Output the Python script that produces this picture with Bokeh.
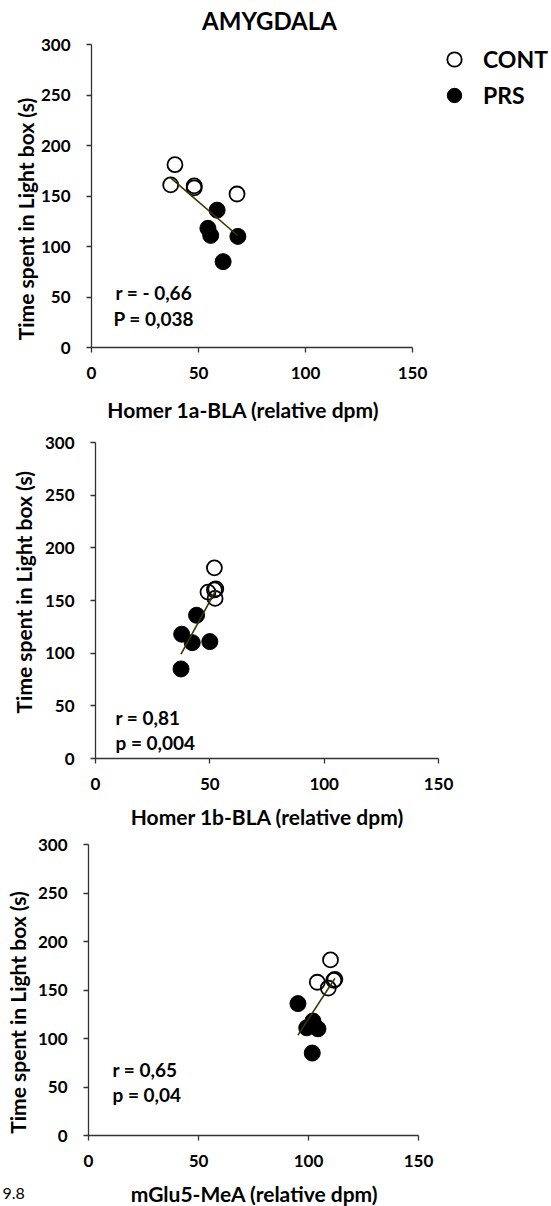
import numpy as np
from bokeh.plotting import figure
from bokeh.models import Range1d, Label, Legend, LegendItem, FixedTicker
from bokeh.layouts import column
from bokeh.embed import file_html
from bokeh.resources import INLINE

FONT = "Lato"

# ---------------- data ----------------
x_ticks = [0, 50, 100, 150]
y_ticks = [0, 50, 100, 150, 200, 250, 300]

cont_time = [181, 161, 160, 158, 152]
prs_time = [136, 118, 111, 110, 85]

homer1a_cont = [39, 37, 48, 48, 68]
homer1a_prs = [58.7, 54.4, 55.7, 68.4, 61.5]
homer1b_cont = [52, 52.6, 52, 49.2, 52.3]
homer1b_prs = [44.2, 37.7, 50, 42.3, 37.4]
mglu5_cont = [110, 112, 111.5, 104, 109]
mglu5_prs = [95.2, 102, 99.2, 104.3, 101.7]

x_labels = ["Homer 1a-BLA (relative dpm)", "Homer 1b-BLA (relative dpm)", "mGlu5-MeA (relative dpm)"]
y_label = "Time spent in Light box (s)"
r_texts = ["r = - 0,66", "r = 0,81", "r = 0,65"]
p_texts = ["P = 0,038", "p = 0,004", "p = 0,04"]
title_text = "AMYGDALA"
groups = ["CONT", "PRS"]
fig_note = "9.8"

# ---------------- layout (page pixels) ----------------
W = 551
panels = [
    dict(top=0, h=425, L=91, R=412, T=44, B=347,
         ylab=(24.7, 218.5), xlab=(243, 409), r=(115, 292), p=(113, 318)),
    dict(top=425, h=405, L=95, R=438, T=442, B=758,
         ylab=(23.2, 591.7), xlab=(267, 816), r=(115, 717), p=(115, 742)),
    dict(top=830, h=376, L=88, R=418, T=844, B=1135,
         ylab=(16.9, 1012), xlab=(254, 1193), r=(112, 1069), p=(112, 1094)),
]
xs_cont = [homer1a_cont, homer1b_cont, mglu5_cont]
xs_prs = [homer1a_prs, homer1b_prs, mglu5_prs]


def to_data(g, px, py):
    x = (px - g["L"]) / (g["R"] - g["L"]) * 150.0
    y = (g["B"] - py) / (g["B"] - g["T"]) * 300.0
    return x, y


def add_text(p, g, pos, text, size, align="left", angle=0.0, bold=True, baseline="middle"):
    x, y = to_data(g, pos[0], pos[1])
    lab = Label(x=x, y=y, text=text, text_font=FONT, text_font_size=size,
                text_font_style="bold" if bold else "normal", text_color="black",
                text_align=align, text_baseline=baseline, angle=angle)
    p.add_layout(lab)


figs = []
for i, g in enumerate(panels):
    x0, y_top = to_data(g, 0, g["top"])
    x1, y_bot = to_data(g, W, g["top"] + g["h"])
    p = figure(width=W, height=g["h"], output_backend="svg", toolbar_location=None,
               title=None, x_range=Range1d(x0, x1), y_range=Range1d(y_bot, y_top),
               min_border=0, min_border_left=0, min_border_right=0,
               min_border_top=0, min_border_bottom=0)
    p.outline_line_color = None
    p.grid.visible = False
    for ax in (p.xaxis, p.yaxis):
        ax.fixed_location = 0
        ax.axis_line_color = "#333333"
        ax.axis_line_width = 1.3
        ax.major_tick_line_color = "#333333"
        ax.major_tick_line_width = 1.3
        ax.major_tick_out = 5
        ax.major_tick_in = 0
        ax.minor_tick_line_color = None
        ax.major_label_text_font = FONT
        ax.major_label_text_font_style = "bold"
        ax.major_label_text_font_size = "17px"
        ax.major_label_text_color = "black"
    p.xaxis.bounds = (0, 150)
    p.yaxis.bounds = (0, 300)
    p.xaxis.ticker = FixedTicker(ticks=x_ticks)
    p.yaxis.ticker = FixedTicker(ticks=y_ticks)
    p.xaxis.major_label_standoff = 14
    p.yaxis.major_label_standoff = 16

    xc = np.array(xs_cont[i], dtype=float)
    xp = np.array(xs_prs[i], dtype=float)
    xa = np.concatenate([xc, xp])
    ya = np.concatenate([cont_time, prs_time]).astype(float)
    slope, icpt = np.polyfit(xa, ya, 1)
    lx = np.array([xa.min(), xa.max()])

    r_prs = p.scatter(xp, prs_time, marker="circle", size=16, fill_color="black", line_color="black")
    r_cont = p.scatter(xc, cont_time, marker="circle", size=15, fill_alpha=0.0,
                       line_color="black", line_width=1.8)
    p.line(lx, slope * lx + icpt, line_color="#3f3200", line_width=1.6)

    add_text(p, g, g["ylab"], y_label, "21px", align="center", angle=np.pi / 2)
    add_text(p, g, g["xlab"], x_labels[i], "21px", align="center")
    add_text(p, g, g["r"], r_texts[i], "19px")
    add_text(p, g, g["p"], p_texts[i], "19px")

    if i == 0:
        add_text(p, g, (269, 20), title_text, "24px", align="center")
        legend = Legend(items=[LegendItem(label=groups[0], renderers=[r_cont]),
                               LegendItem(label=groups[1], renderers=[r_prs])],
                        location=(433, 309), glyph_width=36, glyph_height=36,
                        padding=3, margin=0, spacing=-4, label_standoff=11,
                        label_text_font=FONT, label_text_font_style="bold",
                        label_text_font_size="23px", label_text_color="black",
                        label_height=36,
                        border_line_alpha=0, background_fill_alpha=0)
        p.add_layout(legend)
    if i == 2:
        add_text(p, g, (2, 1198), fig_note, "16px", bold=False, baseline="bottom")
    figs.append(p)

layout = column(*figs, spacing=0)
open("out.html", "w").write(file_html(layout, INLINE))
